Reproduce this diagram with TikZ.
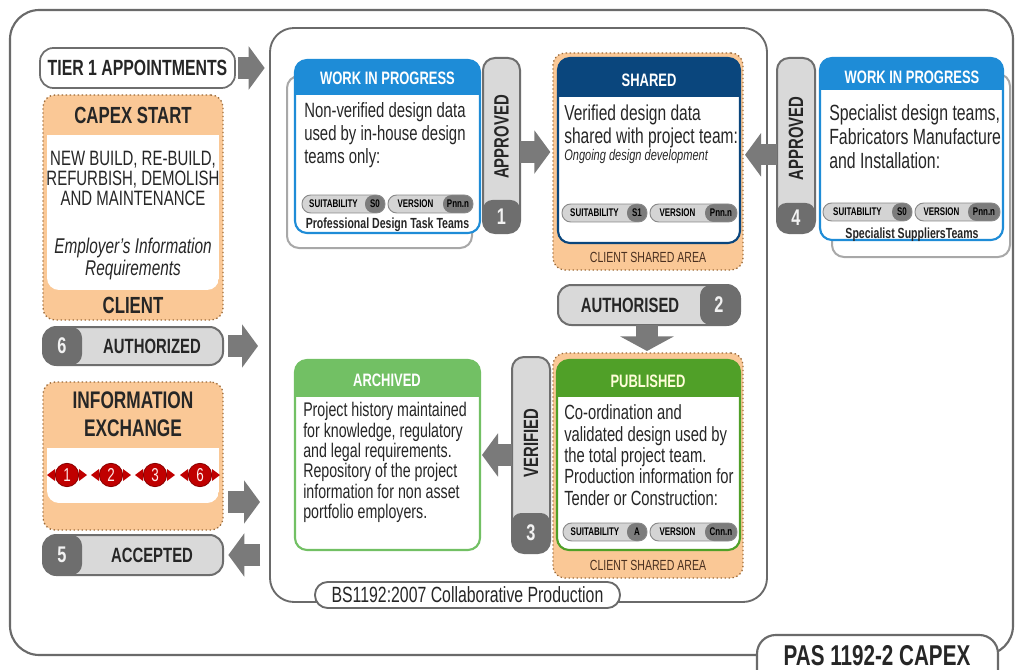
\documentclass[tikz,border=0pt]{standalone}
\usepackage{fontspec}
\setmainfont[FakeStretch=0.72]{Liberation Sans}
\usetikzlibrary{arrows.meta,fit}
\definecolor{wipblue}{HTML}{1E8CD7}
\definecolor{navy}{HTML}{0A467D}
\definecolor{pubgreen}{HTML}{50A028}
\definecolor{arcgreen}{HTML}{72C064}
\definecolor{peach}{HTML}{FAC896}
\definecolor{peachline}{HTML}{9C6B3A}
\definecolor{dgray}{HTML}{6E6E6E}
\definecolor{tablight}{HTML}{D9D9D9}
\definecolor{agray}{HTML}{7A7A7A}
\definecolor{txt}{HTML}{262626}
\definecolor{exred}{HTML}{C00000}
\definecolor{framegray}{HTML}{6A6A6A}
\definecolor{shadowgray}{HTML}{A8A8A8}
\definecolor{pilllight}{HTML}{D4D4D4}
\definecolor{pilldark}{HTML}{7C7C7C}
\definecolor{pillline}{HTML}{8A8A8A}
\definecolor{csabrown}{HTML}{4A3020}
\tikzset{
  fitbox/.style={inner sep=0pt,outer sep=0pt},
  frame/.style={draw=framegray,line width=1.4pt},
  barrow/.style={draw=agray,line width=16pt,line cap=butt,-{Triangle[width=32pt,length=12pt]}},
  body/.style={inner sep=0pt,text=txt,align=left},
  ttl/.style={inner sep=0pt,text=white,font=\bfseries\fontsize{13.5}{15}\selectfont},
  lab/.style={inner sep=0pt,text=txt,font=\bfseries\fontsize{15.5}{17}\selectfont},
  num/.style={inner sep=0pt,text=white!90!gray,font=\bfseries\fontsize{17}{18}\selectfont},
  csa/.style={inner sep=0pt,text=csabrown,font=\fontsize{11}{12}\selectfont},
  ptxt/.style={inner sep=0pt,text=black,font=\bfseries\fontsize{8.3}{9}\selectfont},
  team/.style={inner sep=0pt,text=txt,font=\bfseries\fontsize{11}{12}\selectfont},
  exc/.style={circle,fill=exred,draw=exred!70!black,line width=0.6pt,inner sep=0pt,minimum size=17.5pt,text=white!92!red,font=\fontsize{14}{14}\selectfont},
}
% name, x1, x2, yc, label, code, dark width
\newcommand\tagpill[7]{%
  \begin{scope}
    \clip[rounded corners=6.5pt] (#2,#4-9) rectangle (#3,#4+9);
    \fill[pilllight] (#2,#4-9) rectangle (#3,#4+9);
    \fill[pilldark, rounded corners=6.5pt] (#3-#7,#4-9) rectangle (#3+12,#4+9);
  \end{scope}
  \draw[pillline, line width=0.7pt, rounded corners=6.5pt] (#2,#4-9) rectangle (#3,#4+9);
  \node[ptxt] (#1l) at ({(#2+#3-#7)/2},#4) {#5};
  \node[ptxt] (#1c) at ({#3-#7/2},#4) {#6};
}
% name, x1,y1,x2,y2, ydark, label, number
\newcommand\vtabbox[8]{%
  \begin{scope}
    \clip[rounded corners=9pt] (#2,#3) rectangle (#4,#5);
    \fill[tablight] (#2,#3) rectangle (#4,#5);
    \fill[dgray, rounded corners=7pt] (#2,#6) rectangle (#4,#5+15);
  \end{scope}
  \node[fit={(#2,#3) (#4,#5)}, fitbox, draw=dgray, line width=1.5pt, rounded corners=9pt] (#1) {};
  \node[lab, rotate=90] (#1l) at ({(#2+#4)/2},{(#3+#6)/2+8}) {#7};
  \node[num] (#1n) at ({(#2+#4)/2},{(#6+#5)/2}) {#8};
}
% name, x1,y1,x2,y2, dark x from, dark x to
\newcommand\hpillbox[7]{%
  \begin{scope}
    \clip[rounded corners=10pt] (#2,#3) rectangle (#4,#5);
    \fill[tablight] (#2,#3) rectangle (#4,#5);
    \fill[dgray, rounded corners=8pt] (#6,#3) rectangle (#7,#5);
  \end{scope}
  \node[fit={(#2,#3) (#4,#5)}, fitbox, draw=dgray, line width=1.5pt, rounded corners=10pt] (#1) {};
}
\newcommand\peacharea[5]{%
  \node[fit={(#2,#3) (#4,#5)}, fitbox, fill=peach, draw=peachline, dotted, line width=1pt, rounded corners=9pt] (#1) {};
}
% name, x1,y1,x2,y2, yband, colour
\newcommand\bandbox[7]{%
  \fill[white, rounded corners=9pt] (#2,#3) rectangle (#4,#5);
  \begin{scope}
    \clip[rounded corners=9pt] (#2,#3) rectangle (#4,#5);
    \fill[#7] (#2,#3) rectangle (#4,#6);
  \end{scope}
  \node[fit={(#2,#3) (#4,#5)}, fitbox, draw=#7, line width=1.6pt, rounded corners=9pt] (#1) {};
}
\begin{document}
\begin{tikzpicture}[x=0.75pt,y=-0.75pt]
\useasboundingbox (0,0) rectangle (1023,670);
\clip (0,0) rectangle (1023,670);
\fill[white] (0,0) rectangle (1023,670);

% frames
\node[fit={(10,10) (1013,655)}, fitbox, frame, line width=1.6pt, rounded corners=22pt] (outer) {};
\node[fit={(270,28) (767,602)}, fitbox, frame, rounded corners=18pt] (inner) {};
\node[fit={(315,582) (620,608)}, fitbox, frame, fill=white, rounded corners=9.5pt] (bs) {};
\node[inner sep=0pt, text=txt, font=\fontsize{16.5}{18}\selectfont] (bst) at (bs) {BS1192:2007 Collaborative Production};
\node[fit={(757,635) (998,700)}, fitbox, frame, line width=1.6pt, fill=white, rounded corners=14pt] (pas) {};
\node[inner sep=0pt, text=txt, font=\bfseries\fontsize{21.5}{23}\selectfont] (past) at (877,656) {PAS 1192-2 CAPEX};

% ---------- left column ----------
\node[fit={(40,48) (235,88)}, fitbox, draw=dgray, line width=1.3pt, rounded corners=10pt, fill=white] (tier) {};
\node[lab, font=\bfseries\fontsize{16.5}{18}\selectfont] (tiert) at (tier) {TIER 1 APPOINTMENTS};

\peacharea{capex}{43}{95}{223}{320}
\begin{scope}
  \clip[rounded corners=9pt] (47,100) rectangle (219,290);
  \fill[white] (47,135) rectangle (219,290);
\end{scope}
\node[lab, font=\bfseries\fontsize{17.5}{19}\selectfont] (capext) at (133,115) {CAPEX START};
\node[body, align=center, font=\fontsize{15.6}{15}\selectfont] (capexb) at (133,178) {NEW BUILD, RE-BUILD,\\REFURBISH, DEMOLISH\\AND MAINTENANCE};
\node[body, align=center, font=\itshape\fontsize{16}{16.5}\selectfont] (eir) at (133,259) {Employer's Information\\Requirements};
\node[lab, font=\bfseries\fontsize{17.5}{19}\selectfont] (client) at (133,305) {CLIENT};

\hpillbox{auth6}{43}{327}{223}{365}{10}{82}
\node[num] (auth6n) at (62,346) {6};
\node[lab] (auth6t) at (152,346) {AUTHORIZED};

\peacharea{info}{43}{382}{223}{530}
\begin{scope}
  \clip[rounded corners=9pt] (47,400) rectangle (219,503);
  \fill[white] (47,448) rectangle (219,503);
\end{scope}
\node[lab, align=center, font=\bfseries\fontsize{18}{21}\selectfont] (infot) at (133,414) {INFORMATION\\EXCHANGE};
\foreach \c/\n [count=\i] in {67/1,111/2,155/3,200/6}{
  \fill[exred] (\c-12,469) -- (\c-12,481) -- (\c-20,475) -- cycle;
  \fill[exred] (\c+12,469) -- (\c+12,481) -- (\c+20,475) -- cycle;
  \node[exc] (ex\i) at (\c,475) {\n};
}

\hpillbox{acc5}{43}{535}{223}{575}{10}{82}
\node[num] (acc5n) at (62,555) {5};
\node[lab] (acc5t) at (152,555) {ACCEPTED};

% ---------- WIP 1 ----------
\draw[shadowgray, line width=1.5pt, fill=white, rounded corners=9pt] (287,76) rectangle (472,248);
\bandbox{wip1}{295}{60}{480}{233}{95}{wipblue}
\node[ttl] (wip1t) at (387.5,78) {WORK IN PROGRESS};
\node[body, anchor=west, font=\fontsize{15.5}{17.3}\selectfont] (wip1b) at (304,135) {Non-verified design data\\used by in-house design\\teams only:};
\tagpill{p1s}{302}{385}{204}{SUITABILITY}{S0}{20}
\tagpill{p1v}{388}{473}{204}{VERSION}{Pnn.n}{30}
\node[team] (wip1team) at (387.5,225) {Professional Design Task Teams};
\vtabbox{tab1}{483}{58}{520}{233}{200}{APPROVED}{1}

% ---------- SHARED ----------
\peacharea{sharea}{553}{53}{743}{270}
\bandbox{shared}{558}{58}{740}{243}{97}{navy}
\node[ttl] (sharedt) at (649,80) {SHARED};
\node[body, anchor=west, font=\fontsize{16.2}{17.3}\selectfont] (sharedb) at (564,126.5) {Verified design data\\shared with project team:};
\node[body, anchor=west, font=\itshape\fontsize{11.5}{13}\selectfont] (sharedi) at (564,157) {Ongoing design development};
\tagpill{p2s}{562}{647}{213}{SUITABILITY}{S1}{20}
\tagpill{p2v}{650}{737}{213}{VERSION}{Pnn.n}{32}
\node[csa] (csa1) at (648,257) {CLIENT SHARED AREA};

% ---------- WIP 2 ----------
\draw[shadowgray, line width=1.5pt, fill=white, rounded corners=9pt] (832,74) rectangle (1010,257);
\bandbox{wip2}{820}{58}{1003}{240}{90}{wipblue}
\node[ttl] (wip2t) at (912,77) {WORK IN PROGRESS};
\node[body, anchor=west, font=\fontsize{16.5}{18}\selectfont] (wip2b) at (829,137) {Specialist design teams,\\Fabricators Manufacture\\and Installation:};
\tagpill{p3s}{823}{912}{212}{SUITABILITY}{S0}{20}
\tagpill{p3v}{915}{1000}{212}{VERSION}{Pnn.n}{32}
\node[team] (wip2team) at (912,235) {Specialist SuppliersTeams};
\vtabbox{tab4}{777}{58}{815}{233}{203}{APPROVED}{4}

% ---------- AUTHORISED ----------
\hpillbox{auth2}{558}{285}{740}{325}{700}{770}
\node[lab] (auth2t) at (630,305) {AUTHORISED};
\node[num] (auth2n) at (719,305) {2};

% ---------- PUBLISHED ----------
\peacharea{puba}{553}{353}{743}{578}
\bandbox{pub}{557}{360}{740}{550}{397}{pubgreen}
\node[ttl, text=white!85!yellow] (pubt) at (648,381) {PUBLISHED};
\node[body, anchor=west, font=\fontsize{15.4}{16}\selectfont] (pubb) at (564,455) {Co-ordination and\\validated design used by\\the total project team.\\Production information for\\Tender or Construction:};
\tagpill{p4s}{563}{647}{532}{SUITABILITY}{A}{20}
\tagpill{p4v}{650}{737}{532}{VERSION}{Cnn.n}{32}
\node[csa] (csa2) at (648,565) {CLIENT SHARED AREA};

\vtabbox{tab3}{512}{357}{550}{553}{513}{VERIFIED}{3}

% ---------- ARCHIVED ----------
\bandbox{arc}{295}{360}{480}{550}{397}{arcgreen}
\node[ttl] (arct) at (387,380) {ARCHIVED};
\node[body, anchor=west, font=\fontsize{14.8}{15.2}\selectfont] (arcb) at (303,462.5) {Project history maintained\\for knowledge, regulatory\\and legal requirements.\\Repository of the project\\information for non asset\\portfolio employers.};

% ---------- block arrows ----------
\draw[barrow] ([xshift=2.5pt]tier.east) -- ([xshift=-4pt]tier.east -| inner.west);
\draw[barrow] ([yshift=-4.9pt]tab1.east) -- ([yshift=-4.9pt,xshift=-2pt]tab1.east -| sharea.west);
\draw[barrow] ([yshift=-7pt]tab4.west) -- ([yshift=-7pt,xshift=1.5pt]tab4.west -| sharea.east);
\draw[barrow, -{Triangle[width=40pt,length=11pt]}] ([xshift=-1.5pt]auth2.south) -- ([xshift=-1.5pt,yshift=1.5pt]auth2.south |- puba.north);
\draw[barrow] (tab3.west) -- ([xshift=1.5pt]tab3.west -| arc.east);
\draw[barrow] ([xshift=4pt]auth6.east) -- ([xshift=-9pt]auth6.east -| inner.west);
\draw[barrow] ([xshift=4pt,yshift=-34.5pt]info.east) -- ([xshift=-7.5pt,yshift=-34.5pt]info.east -| inner.west);
\draw[barrow] ([xshift=-7.5pt]acc5.east -| inner.west) -- ([xshift=4pt]acc5.east);
\end{tikzpicture}
\end{document}
